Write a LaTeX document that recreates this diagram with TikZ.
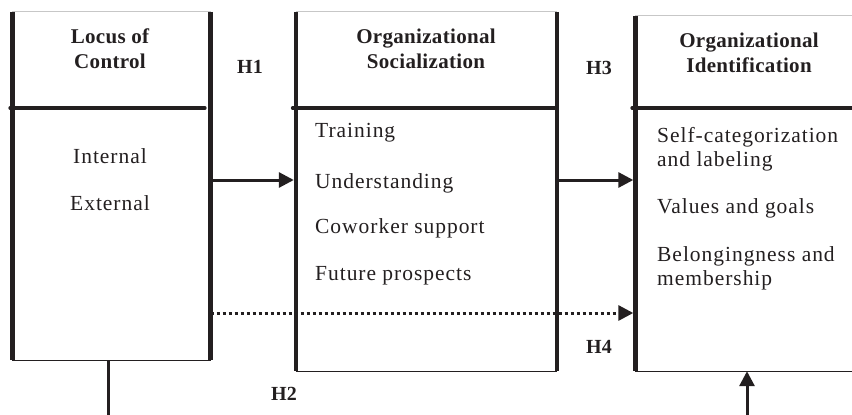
\documentclass[tikz,border=0pt]{standalone}
\usepackage{fontspec}
\setmainfont{Liberation Serif}[LetterSpace=4.5]
\usetikzlibrary{arrows.meta}
\definecolor{ink}{HTML}{231F20}

\tikzset{
  panel/.style={draw=none, inner sep=0pt},
  side/.style={line width=4.5pt, draw=ink},
  lid/.style={line width=1pt, draw=black!22},
  floor/.style={line width=1.2pt, draw=ink},
  divider/.style={line width=4pt, draw=ink, line cap=round},
  link/.style={line width=3pt, draw=ink, -{Triangle[length=15pt,width=15pt]}, shorten >=2pt},
  hint/.style={link, dash pattern=on 3pt off 3pt},
  stub/.style={line width=3pt, draw=ink},
  head/.style={align=center, anchor=base, inner sep=0pt, text=ink,
    font=\fontsize{21}{25}\selectfont\bfseries\addfontfeatures{LetterSpace=1.5}},
  item/.style={align=left, anchor=base west, inner sep=0pt, text=ink,
    font=\fontsize{21.5}{24}\selectfont},
  citem/.style={item, anchor=base},
  hyp/.style={anchor=base, inner sep=0pt, text=ink,
    font=\fontsize{20}{24}\selectfont\bfseries\addfontfeatures{LetterSpace=0}},
}

\begin{document}
\begin{tikzpicture}[x=1pt, y=-1pt]
\useasboundingbox (0,0) rectangle (852,415);

% the three construct panels
\node[panel, minimum width=198pt, minimum height=348pt] (loc) at (111.5,186) {};
\node[panel, minimum width=261pt, minimum height=359pt] (soc) at (426.5,191.5) {};
\node[panel, minimum width=227pt, minimum height=355pt] (oid) at (749,193.5) {};

\coordinate (cut) at (0,108);

% Locus of Control panel
\draw[lid] (loc.north west) -- (loc.north east);
\draw[floor] (loc.south west) -- (loc.south east);
\draw[side] (loc.north west) -- (loc.south west);
\draw[side] (loc.north east) -- (loc.south east);
\draw[divider] ([xshift=-2pt]loc.west |- cut) -- ([xshift=-6pt]loc.east |- cut);

% Organizational Socialization panel
\draw[lid] (soc.north west) -- (soc.north east);
\draw[floor] (soc.south west) -- (soc.south east);
\draw[side] (soc.north west) -- (soc.south west);
\draw[side] (soc.north east) -- (soc.south east);
\draw[divider] ([xshift=-3pt]soc.west |- cut) -- ([xshift=-2pt]soc.east |- cut);

% Organizational Identification panel
\draw[lid] (oid.north west) -- (oid.north east);
\draw[floor] (oid.south west) -- (oid.south east);
\draw[side, line width=5pt] (oid.north west) -- (oid.south west);
\draw[divider] ([xshift=-3pt]oid.west |- cut) -- (oid.east |- cut);

% panel headings (anchored at the baseline of their last line)
\node[head] (locHead) at (110,68) {Locus of\\Control};
\node[head] (socHead) at (426,68) {Organizational\\Socialization};
\node[head] (oidHead) at (749,72) {Organizational\\Identification};

% panel contents
\node[citem] (internal) at (110,163) {Internal};
\node[citem] (external) at (110,210) {External};

\node[item] (training) at (315,137) {Training};
\node[item] (understanding) at (315,188) {Understanding};
\node[item] (coworker) at (315,233) {Coworker support};
\node[item] (future) at (315,280) {Future prospects};

\node[item] (selfcat) at (657,166) {Self-categorization\\and labeling};
\node[item] (values) at (657,213) {Values and goals};
\node[item] (belong) at (657,285) {Belongingness and\\membership};

% hypothesised paths
\draw[link] (loc.east |- 0,180) -- (soc.west |- 0,180);
\draw[link] (soc.east |- 0,180) -- (oid.west |- 0,180);
\draw[hint] (loc.east |- 0,313) -- (oid.west |- 0,313);

\coordinate (tail) at (108,415);
\coordinate (foot) at (747,415);
\draw[stub] (loc.south -| tail) -- (tail);
\draw[link, shorten >=0pt] (foot) -- (oid.south -| foot);

\node[hyp] (h1) at (250,73) {H1};
\node[hyp] (h3) at (599,74) {H3};
\node[hyp] (h2) at (284,400) {H2};
\node[hyp] (h4) at (599,353) {H4};
\end{tikzpicture}
\end{document}
